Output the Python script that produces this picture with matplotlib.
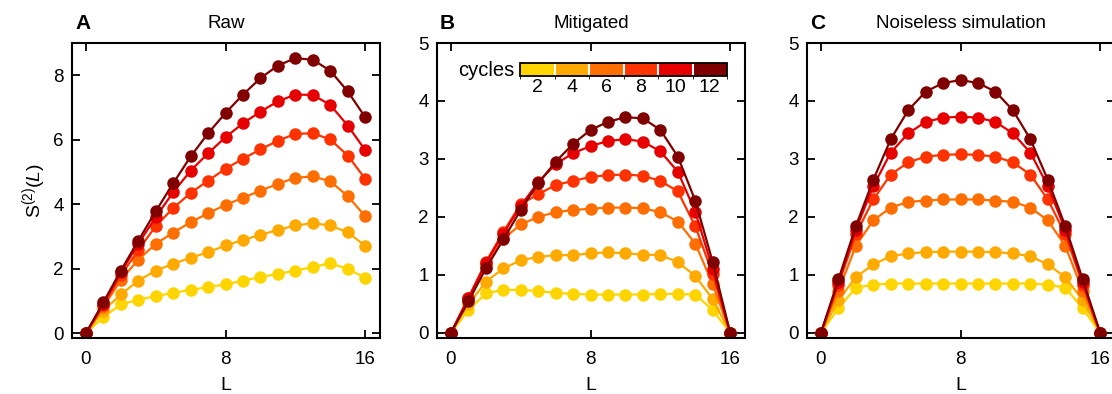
import numpy as np
import matplotlib
matplotlib.use("Agg")
import matplotlib.pyplot as plt
from matplotlib.colors import ListedColormap, BoundaryNorm
import matplotlib.colorbar as mcolorbar

plt.rcParams['font.family'] = ['Liberation Sans', 'DejaVu Sans']
plt.rcParams['mathtext.fontset'] = 'custom'
plt.rcParams['mathtext.rm'] = 'Liberation Sans'
plt.rcParams['mathtext.it'] = 'Liberation Sans:italic'

L = list(range(17))
cycles = [2, 4, 6, 8, 10, 12]
colors = ['#FFD500', '#FFAA00', '#FF6E00', '#FF3300', '#E60000', '#800000']

# Raw
raw = [
    [0, 0.50, 0.89, 1.04, 1.15, 1.25, 1.34, 1.43, 1.51, 1.63, 1.74, 1.84, 1.94, 2.05, 2.17, 1.99, 1.72],
    [0, 0.70, 1.20, 1.63, 1.94, 2.15, 2.34, 2.51, 2.72, 2.89, 3.05, 3.20, 3.34, 3.41, 3.34, 3.13, 2.71],
    [0, 0.81, 1.65, 2.28, 2.77, 3.12, 3.44, 3.72, 3.98, 4.20, 4.42, 4.63, 4.82, 4.86, 4.71, 4.25, 3.63],
    [0, 0.86, 1.79, 2.58, 3.32, 3.88, 4.35, 4.73, 5.10, 5.41, 5.70, 5.97, 6.18, 6.20, 6.01, 5.51, 4.79],
    [0, 0.91, 1.89, 2.77, 3.60, 4.37, 5.04, 5.58, 6.08, 6.51, 6.87, 7.19, 7.40, 7.39, 7.08, 6.44, 5.68],
    [0, 0.96, 1.94, 2.87, 3.78, 4.65, 5.48, 6.20, 6.83, 7.40, 7.91, 8.30, 8.53, 8.48, 8.14, 7.50, 6.70],
]

# Mitigated
mitigated = [
    [0, 0.39, 0.68, 0.74, 0.74, 0.72, 0.69, 0.67, 0.66, 0.66, 0.66, 0.66, 0.67, 0.67, 0.66, 0.39, 0],
    [0, 0.49, 0.88, 1.11, 1.25, 1.31, 1.34, 1.34, 1.37, 1.39, 1.37, 1.35, 1.34, 1.22, 0.98, 0.58, 0],
    [0, 0.58, 1.15, 1.62, 1.87, 2.00, 2.08, 2.12, 2.14, 2.16, 2.16, 2.15, 2.08, 1.92, 1.54, 0.84, 0],
    [0, 0.60, 1.22, 1.74, 2.22, 2.39, 2.55, 2.62, 2.69, 2.72, 2.73, 2.71, 2.62, 2.44, 1.84, 1.01, 0],
    [0, 0.60, 1.20, 1.71, 2.19, 2.60, 2.91, 3.10, 3.22, 3.31, 3.34, 3.30, 3.13, 2.78, 2.09, 1.10, 0],
    [0, 0.54, 1.11, 1.61, 2.12, 2.58, 2.95, 3.26, 3.50, 3.64, 3.72, 3.70, 3.50, 3.04, 2.28, 1.22, 0],
]

# Noiseless simulation
noiseless = [
    [0, 0.42, 0.78, 0.83, 0.85, 0.85, 0.85, 0.85, 0.85, 0.85, 0.85, 0.85, 0.85, 0.83, 0.78, 0.42, 0],
    [0, 0.56, 0.96, 1.18, 1.32, 1.37, 1.39, 1.40, 1.40, 1.40, 1.39, 1.37, 1.32, 1.18, 0.96, 0.56, 0],
    [0, 0.72, 1.50, 1.94, 2.16, 2.26, 2.28, 2.30, 2.30, 2.30, 2.28, 2.26, 2.16, 1.94, 1.50, 0.72, 0],
    [0, 0.83, 1.70, 2.30, 2.73, 2.94, 3.04, 3.07, 3.08, 3.07, 3.04, 2.94, 2.73, 2.30, 1.70, 0.83, 0],
    [0, 0.87, 1.78, 2.53, 3.11, 3.44, 3.64, 3.71, 3.73, 3.71, 3.64, 3.44, 3.11, 2.53, 1.78, 0.87, 0],
    [0, 0.92, 1.84, 2.64, 3.34, 3.84, 4.16, 4.31, 4.36, 4.31, 4.16, 3.84, 3.34, 2.64, 1.84, 0.92, 0],
]

titles = ["Raw", "Mitigated", "Noiseless simulation"]
letters = ["A", "B", "C"]
datasets = [raw, mitigated, noiseless]
ylims = [(-0.15, 9.0), (-0.09, 5.0), (-0.09, 5.0)]
yticks = [[0, 2, 4, 6, 8], [0, 1, 2, 3, 4, 5], [0, 1, 2, 3, 4, 5]]

W, H = 1112, 394
fig = plt.figure(figsize=(W / 100, H / 100), dpi=100)

lefts = [72, 437, 807]
axw, axh = 308, 295
bottom = H - 338

for i in range(3):
    ax = fig.add_axes([lefts[i] / W, bottom / H, axw / W, axh / H])
    for j in range(6):
        ax.plot(L, datasets[i][j], '-o', color=colors[j], ms=9, lw=1.6,
                markeredgewidth=0)
    ax.set_xlim(-0.8, 16.85)
    ax.set_ylim(*ylims[i])
    ax.set_xticks([0, 8, 16])
    ax.set_yticks(yticks[i])
    ax.tick_params(direction='in', length=6, width=1.3, labelsize=13.5,
                   top=True, right=True)
    ax.tick_params(axis='x', pad=9)
    ax.tick_params(axis='y', pad=6)
    for s in ax.spines.values():
        s.set_linewidth(1.5)
    ax.set_xlabel("L", fontsize=14, labelpad=7)
    ax.set_title(titles[i], fontsize=13.5, pad=11)
    ax.text(0.01, 1.065, letters[i], transform=ax.transAxes, fontsize=15,
            fontweight='bold', va='center', ha='left')
    if i == 0:
        ax.set_ylabel(r'$\mathrm{S}^{(2)}(L)$', fontsize=14, labelpad=4)

# colorbar legend in panel B
cax = fig.add_axes([520 / W, (H - 76) / H, 207 / W, 13 / H])
cmap = ListedColormap(colors)
bounds = [1, 3, 5, 7, 9, 11, 13]
norm = BoundaryNorm(bounds, cmap.N)
cb = mcolorbar.ColorbarBase(cax, cmap=cmap, norm=norm, boundaries=bounds,
                            ticks=cycles, orientation='horizontal', drawedges=True)
cb.dividers.set_color('white')
cb.dividers.set_linewidth(1.5)
cb.outline.set_linewidth(1.3)
cax.tick_params(length=0, labelsize=14, pad=2)
fig.text(514 / W, (H - 70) / H, "cycles", fontsize=14.5, ha='right', va='center')

fig.savefig("out.png", dpi=100)
